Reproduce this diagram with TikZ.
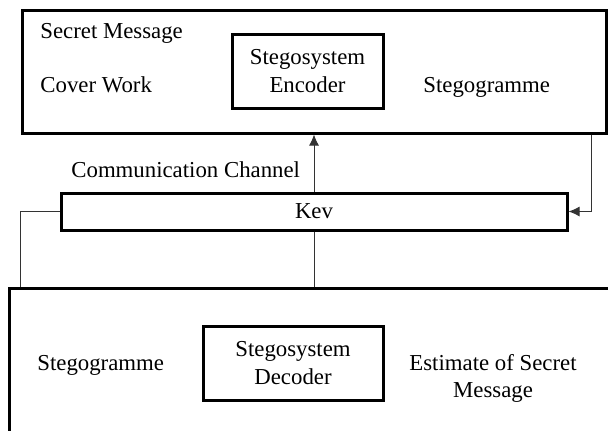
\documentclass[tikz,border=0pt]{standalone}
\usepackage{fontspec}
\setmainfont{Liberation Serif}
\usetikzlibrary{positioning,calc,arrows.meta}
\tikzset{
	boite/.style={draw,line width=1.5pt,inner sep=0pt,align=center,font=\fontsize{11.4}{14}\selectfont},
	texte/.style={inner sep=0pt,align=center,font=\fontsize{11.4}{13.5}\selectfont},
	lien/.style={line width=0.5pt,draw=black!80},
	fleche/.style={lien,-{Latex[length=5.5pt,width=5pt]}}
}

\begin{document}
\begin{tikzpicture}[x=0.5pt,y=-0.5pt]
	\def\largeur{608}
	\def\hauteur{430}
\clip (0,0) rectangle (\largeur,\hauteur); % Page = picture

%Emetteur
\node[boite,minimum width=292pt,minimum height=61.5pt] (emetteur) at (314,71.5) {};
\node[boite,minimum width=75.5pt,minimum height=37pt] (encodeur) at (307.5,71) {Stegosystem\\Encoder};
\node[texte,anchor=west] (secret) at (40,33) {Secret Message};
\node[texte,anchor=west] (couverture) at (40,85) {Cover Work};
\node[texte,anchor=west] (stegoA) at (423,87) {Stegogramme};

%Canal
\node[boite,minimum width=253pt,minimum height=18.5pt] (cle) at (314,211.5) {Kev};
\node[texte,anchor=west] (canal) at (71,170) {Communication Channel};

%Recepteur
\node[boite,minimum width=305.5pt,minimum height=78.5pt] (recepteur) at (314.5,366.5) {};
\node[boite,minimum width=90pt,minimum height=37pt] (decodeur) at (293,363) {Stegosystem\\Decoder};
\node[texte,anchor=west] (stegoB) at (37,365) {Stegogramme};
\node[texte] (estimation) at (493,378.5) {Estimate of Secret\\Message};

%Liens
\draw[fleche] (cle.north) -- (cle.north |- emetteur.south);
\draw[fleche] ([xshift=-8pt]emetteur.south east) |- (cle.east);
\draw[lien] (cle.west) -| ([xshift=6.5pt]recepteur.north west);
\draw[lien] (cle.south) -- (cle.south |- recepteur.north);

\end{tikzpicture}
\end{document}
